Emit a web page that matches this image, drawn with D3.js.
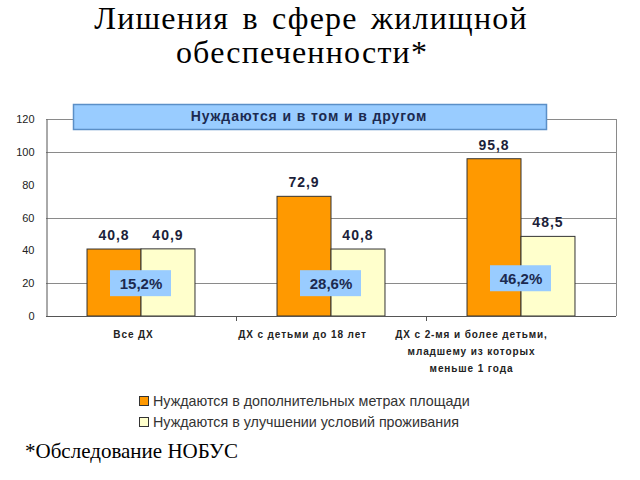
<!DOCTYPE html>
<html>
<head>
<meta charset="utf-8">
<script src="https://cdn.jsdelivr.net/npm/d3@7"></script>
<style>
  body { margin: 0; background: #fff; }
  svg { display: block; }
</style>
</head>
<body>
<svg id="chart" width="640" height="480"></svg>
<script>
// data
var categories = ["Все ДХ", "ДХ с детьми до 18 лет", "ДХ с 2-мя и более детьми, младшему из которых меньше 1 года"];
var categoryLines = [["Все ДХ"], ["ДХ с детьми до 18 лет"], ["ДХ с 2-мя и более детьми,", "младшему из которых", "меньше 1 года"]];
var seriesNames = ["Нуждаются в дополнительных метрах площади", "Нуждаются в улучшении условий проживания"];
var areaValues = [40.8, 72.9, 95.8];
var conditionValues = [40.9, 40.8, 48.5];
var valueLabels = [["40,8", "40,9"], ["72,9", "40,8"], ["95,8", "48,5"]];
var bothShare = ["15,2%", "28,6%", "46,2%"];
var bothLevel = [20, 20, 23];
var yTicks = [0, 20, 40, 60, 80, 100, 120];
var gridTicks = [20, 60, 100, 120];
var colors = ["#FF9900", "#FFFFCC"];

var svg = d3.select("#chart");

// title
var title = svg.append("text").attr("text-anchor", "middle")
  .attr("font-family", "Liberation Serif, Times New Roman, serif")
  .attr("font-size", 32).attr("letter-spacing", 1.2).attr("fill", "#000");
title.append("tspan").attr("x", 311).attr("y", 29).attr("word-spacing", 4).text("Лишения в сфере жилищной");
title.append("tspan").attr("x", 302).attr("y", 63).text("обеспеченности*");

var x0 = d3.scaleBand().domain(d3.range(categories.length)).range([46, 616]).paddingInner(0).paddingOuter(0);
var x1 = d3.scaleBand().domain([0, 1]).range([0, x0.bandwidth()]).paddingInner(0).paddingOuter(0.76);
// category labels sit a little left of the bars in the original
var xLabel = d3.scaleBand().domain(d3.range(categories.length)).range([49, 556]);
var y = d3.scaleLinear().domain([0, 120]).range([316, 119]);

// gridlines
svg.append("g").selectAll("line").data(gridTicks).enter().append("line")
  .attr("x1", 46).attr("x2", 616)
  .attr("y1", function(d) { return Math.round(y(d)) + 0.5; })
  .attr("y2", function(d) { return Math.round(y(d)) + 0.5; })
  .attr("stroke", "#8a8a8a").attr("stroke-width", 1);
svg.append("line").attr("x1", 616.5).attr("x2", 616.5).attr("y1", y(120)).attr("y2", y(0))
  .attr("stroke", "#8a8a8a");

// y axis
var yAxis = svg.append("g").attr("transform", "translate(46.5,0)")
  .call(d3.axisLeft(y).tickValues(yTicks).tickSize(0).tickPadding(12));
yAxis.select(".domain").attr("stroke", "#555");
yAxis.selectAll("text").attr("font-family", "Liberation Sans, Arial, sans-serif")
  .attr("font-size", 11).attr("fill", "#222");

// bars
var groups = svg.append("g").selectAll("g").data(categories).enter().append("g")
  .attr("transform", function(d, i) { return "translate(" + x0(i) + ",0)"; });

groups.selectAll("rect").data(function(d, i) { return [areaValues[i], conditionValues[i]]; })
  .enter().append("rect")
  .attr("x", function(d, j) { return x1(j); })
  .attr("y", function(d) { return y(d); })
  .attr("width", x1.bandwidth())
  .attr("height", function(d) { return y(0) - y(d); })
  .attr("fill", function(d, j) { return colors[j]; })
  .attr("stroke", "#333").attr("stroke-width", 1);

groups.selectAll("text.val").data(function(d, i) {
    return [[areaValues[i], valueLabels[i][0]], [conditionValues[i], valueLabels[i][1]]];
  })
  .enter().append("text").attr("class", "val")
  .attr("x", function(d, j) { return x1(j) + x1.bandwidth() / 2; })
  .attr("y", function(d) { return y(d[0]) - 9; })
  .attr("text-anchor", "middle")
  .attr("font-family", "Liberation Sans, Arial, sans-serif")
  .attr("font-weight", "bold").attr("font-size", 14).attr("letter-spacing", 1)
  .attr("fill", "#1c1f3a")
  .text(function(d) { return d[1]; });

// share boxes
groups.append("rect")
  .attr("x", x0.bandwidth() / 2 - 31)
  .attr("y", function(d, i) { return y(bothLevel[i]) - 13; })
  .attr("width", 61).attr("height", 26)
  .attr("fill", "#99CCFF");
groups.append("text")
  .attr("x", x0.bandwidth() / 2)
  .attr("y", function(d, i) { return y(bothLevel[i]) + 5.5; })
  .attr("text-anchor", "middle")
  .attr("font-family", "Liberation Sans, Arial, sans-serif")
  .attr("font-weight", "bold").attr("font-size", 15)
  .attr("fill", "#1c2a50")
  .text(function(d, i) { return bothShare[i]; });

// x axis
svg.append("line").attr("x1", 46).attr("x2", 616).attr("y1", 316.5).attr("y2", 316.5).attr("stroke", "#555");
svg.append("g").selectAll("line").data(d3.range(1, categories.length)).enter().append("line")
  .attr("x1", function(d) { return x0(d) + 0.5; }).attr("x2", function(d) { return x0(d) + 0.5; })
  .attr("y1", 316).attr("y2", 321).attr("stroke", "#555");

svg.append("g").selectAll("text").data(categories).enter().append("text")
  .attr("text-anchor", "middle")
  .attr("font-family", "Liberation Sans, Arial, sans-serif")
  .attr("font-weight", "bold").attr("font-size", 10).attr("letter-spacing", 0.9)
  .attr("fill", "#222")
  .each(function(d, i) {
    d3.select(this).selectAll("tspan").data(categoryLines[i]).enter().append("tspan")
      .attr("x", xLabel(i) + xLabel.bandwidth() / 2)
      .attr("y", function(t, k) { return 338 + k * 17; })
      .text(function(t) { return t; });
  });

// header box
svg.append("rect").attr("x", 73.5).attr("y", 104.5).attr("width", 473).attr("height", 25)
  .attr("fill", "#99CCFF").attr("stroke", "#5b8fc7").attr("stroke-width", 1.5);
svg.append("text").attr("x", 309).attr("y", 121).attr("text-anchor", "middle")
  .attr("font-family", "Liberation Sans, Arial, sans-serif")
  .attr("font-weight", "bold").attr("font-size", 14).attr("letter-spacing", 0.9)
  .attr("fill", "#1c2a50")
  .text("Нуждаются и в том и в другом");

// legend
var legend = svg.append("g").selectAll("g").data(seriesNames).enter().append("g")
  .attr("transform", function(d, i) { return "translate(139," + (396 + i * 21) + ")"; });
legend.append("rect").attr("x", 0.5).attr("y", 0.5).attr("width", 9).attr("height", 9)
  .attr("fill", function(d, i) { return colors[i]; })
  .attr("stroke", "#333");
legend.append("text").attr("x", 14).attr("y", 10)
  .attr("font-family", "Liberation Sans, Arial, sans-serif")
  .attr("font-size", 14.3).attr("fill", "#333")
  .text(function(d) { return d; });

// footnote
svg.append("text").attr("x", 25).attr("y", 458)
  .attr("font-family", "Liberation Serif, Times New Roman, serif")
  .attr("font-size", 21).attr("fill", "#000")
  .text("*Обследование НОБУС");
</script>
</body>
</html>
